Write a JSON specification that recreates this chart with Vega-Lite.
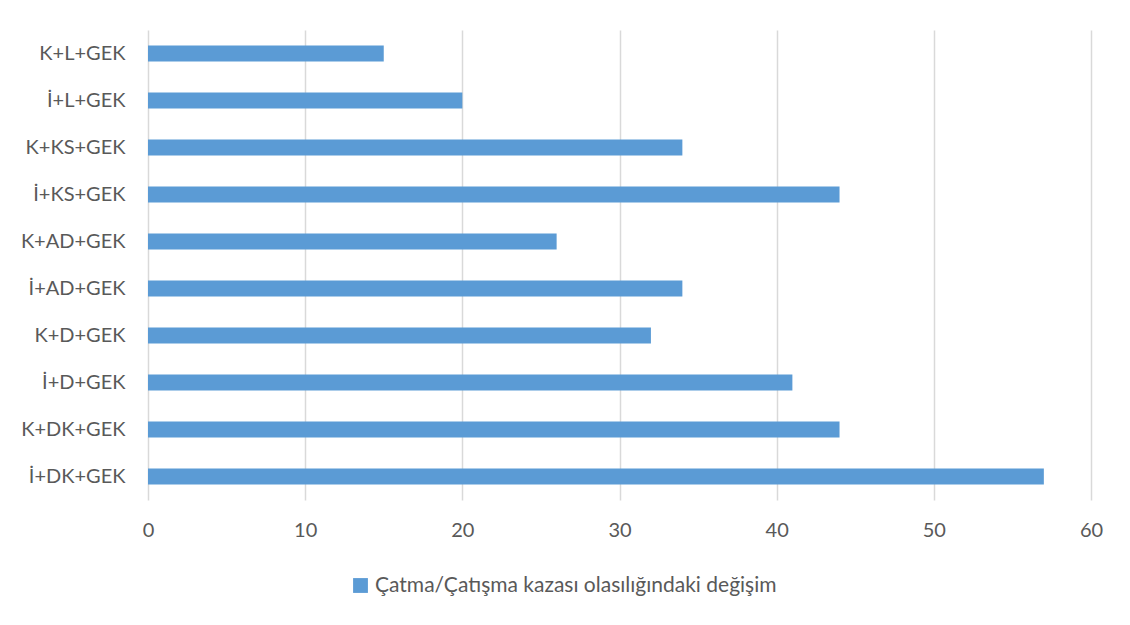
{
  "$schema": "https://vega.github.io/schema/vega-lite/v6.json",
  "width": 943,
  "height": 470,
  "autosize": "none",
  "padding": {"left": 148, "top": 30, "right": 39, "bottom": 125},
  "background": "white",
  "data": {
    "values": [
      {"kategori": "K+L+GEK", "deger": 15, "seri": "Çatma/Çatışma kazası olasılığındaki değişim"},
      {"kategori": "İ+L+GEK", "deger": 20, "seri": "Çatma/Çatışma kazası olasılığındaki değişim"},
      {"kategori": "K+KS+GEK", "deger": 34, "seri": "Çatma/Çatışma kazası olasılığındaki değişim"},
      {"kategori": "İ+KS+GEK", "deger": 44, "seri": "Çatma/Çatışma kazası olasılığındaki değişim"},
      {"kategori": "K+AD+GEK", "deger": 26, "seri": "Çatma/Çatışma kazası olasılığındaki değişim"},
      {"kategori": "İ+AD+GEK", "deger": 34, "seri": "Çatma/Çatışma kazası olasılığındaki değişim"},
      {"kategori": "K+D+GEK", "deger": 32, "seri": "Çatma/Çatışma kazası olasılığındaki değişim"},
      {"kategori": "İ+D+GEK", "deger": 41, "seri": "Çatma/Çatışma kazası olasılığındaki değişim"},
      {"kategori": "K+DK+GEK", "deger": 44, "seri": "Çatma/Çatışma kazası olasılığındaki değişim"},
      {"kategori": "İ+DK+GEK", "deger": 57, "seri": "Çatma/Çatışma kazası olasılığındaki değişim"}
    ]
  },
  "mark": {"type": "bar"},
  "encoding": {
    "y": {
      "field": "kategori",
      "type": "nominal",
      "sort": null,
      "scale": {"paddingInner": 0.66, "paddingOuter": 0.33},
      "axis": {
        "title": null,
        "ticks": false,
        "domain": false,
        "grid": false,
        "labelPadding": 23,
        "labelFont": "Lato",
        "labelFontSize": 20,
        "labelColor": "#595959"
      }
    },
    "x": {
      "field": "deger",
      "type": "quantitative",
      "scale": {"domain": [0, 60], "nice": false},
      "axis": {
        "title": null,
        "values": [0, 10, 20, 30, 40, 50, 60],
        "ticks": false,
        "domain": false,
        "grid": true,
        "gridColor": "#d9d9d9",
        "gridWidth": 1.5,
        "labelFlush": false,
        "labelPadding": 20,
        "labelFont": "Lato",
        "labelFontSize": 20,
        "labelColor": "#595959"
      }
    },
    "color": {
      "field": "seri",
      "type": "nominal",
      "scale": {"range": ["#5B9BD5"]},
      "legend": {
        "title": null,
        "orient": "none",
        "legendX": 202,
        "legendY": 545,
        "padding": 0,
        "symbolType": "square",
        "symbolSize": 220,
        "symbolStrokeWidth": 0,
        "symbolOffset": 0,
        "labelOffset": 4,
        "labelFont": "Lato",
        "labelFontSize": 21,
        "labelColor": "#595959",
        "labelLimit": 700
      }
    }
  },
  "config": {"view": {"stroke": null}}
}
